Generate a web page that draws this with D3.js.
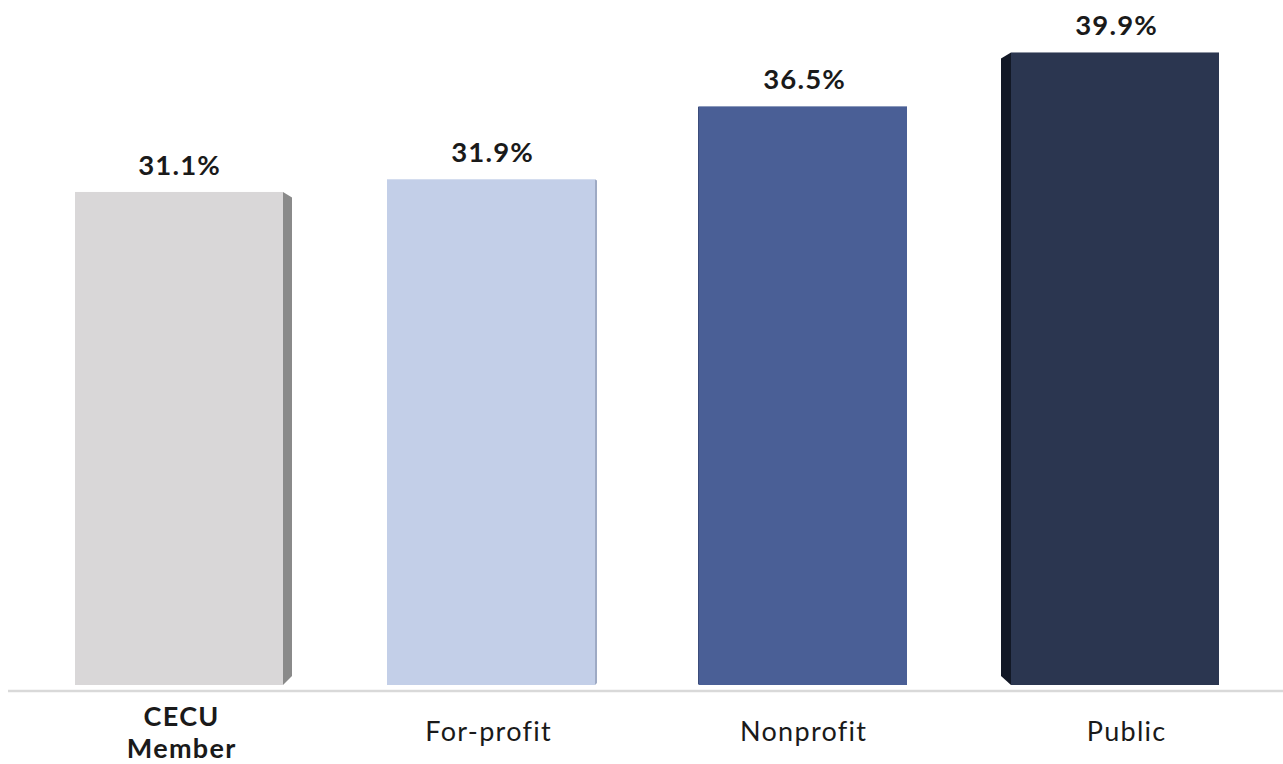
<!DOCTYPE html>
<html>
<head>
<meta charset="utf-8">
<script src="https://cdn.jsdelivr.net/npm/d3@7"></script>
<style>
  html, body { margin: 0; padding: 0; background: #ffffff; }
  svg { display: block; font-family: Lato, "Open Sans", sans-serif; }
</style>
</head>
<body>
<svg id="chart" width="1283" height="764"></svg>
<script>
// ---- data ----
const categories = ["CECU Member", "For-profit", "Nonprofit", "Public"];
const categoryLines = [["CECU", "Member"], ["For-profit"], ["Nonprofit"], ["Public"]];
const values = [31.1, 31.9, 36.5, 39.9];
const valueLabels = ["31.1%", "31.9%", "36.5%", "39.9%"];

// ---- styles ----
const frontColors = ["#d9d7d8", "#c3cfe8", "#4a5f96", "#2b3650"];
const sideColors  = ["#8a8a8a", "#9eaac4", "#3b4c7a", "#121826"];
const sideSide    = ["right", "right", "left", "left"];
const sideWidth   = [9, 2, 1, 10];
const boldCat     = [true, false, false, false];

const svg = d3.select("#chart");
const baseY = 685;
const x = d3.scaleBand().domain(categories).range([23, 1271])
  .paddingInner(1/3).paddingOuter(1/6);
const y = d3.scaleLinear().domain([0, 43.21]).range([baseY, 0]);

const data = categories.map((c, i) => ({ c, i, v: values[i] }));

// side faces
svg.append("g").selectAll("path").data(data).enter().append("path")
  .attr("fill", d => sideColors[d.i])
  .attr("d", d => {
    const x0 = x(d.c), x1 = x0 + x.bandwidth();
    const top = y(d.v), bot = y(0);
    const w = sideWidth[d.i];
    const dy1 = Math.min(w * 0.6, 6), dy2 = Math.min(w, 9);
    if (sideSide[d.i] === "right") {
      return `M${x1},${top}L${x1 + w},${top + dy1}L${x1 + w},${bot - dy2}L${x1},${bot}Z`;
    } else {
      return `M${x0},${top}L${x0 - w},${top + dy1}L${x0 - w},${bot - dy2}L${x0},${bot}Z`;
    }
  });

// front faces
svg.append("g").selectAll("rect").data(data).enter().append("rect")
  .attr("x", d => x(d.c))
  .attr("y", d => y(d.v))
  .attr("width", x.bandwidth())
  .attr("height", d => y(0) - y(d.v))
  .attr("fill", d => frontColors[d.i]);

// baseline
svg.append("line")
  .attr("x1", 8).attr("x2", 1283)
  .attr("y1", 691).attr("y2", 691)
  .attr("stroke", "#d9d9d9").attr("stroke-width", 2.5);

// value labels
const ls = 1.2;
svg.append("g").selectAll("text").data(data).enter().append("text")
  .attr("x", d => x(d.c) + x.bandwidth() / 2 + (d.i === 0 ? 0 : 1) + ls / 2)
  .attr("y", d => y(d.v) - 17)
  .attr("text-anchor", "middle")
  .attr("font-size", 27.5)
  .attr("letter-spacing", ls)
  .attr("font-weight", 700)
  .attr("fill", "#1a1a1a")
  .text(d => valueLabels[d.i]);

// category labels
const catOffsets = [2, -3, 0, 11];
const cls = 1.3;
const cg = svg.append("g").selectAll("text").data(data).enter().append("text")
  .attr("y", d => categoryLines[d.i].length > 1 ? 726 : 741)
  .attr("text-anchor", "middle")
  .attr("font-size", 27)
  .attr("letter-spacing", cls)
  .attr("font-weight", d => boldCat[d.i] ? 700 : 400)
  .attr("fill", "#1a1a1a");
cg.each(function(d) {
  const t = d3.select(this);
  categoryLines[d.i].forEach((line, k) => {
    t.append("tspan")
      .attr("x", x(d.c) + x.bandwidth() / 2 + catOffsets[d.i] + cls / 2)
      .attr("dy", k === 0 ? 0 : 32)
      .text(line);
  });
});
</script>
</body>
</html>
